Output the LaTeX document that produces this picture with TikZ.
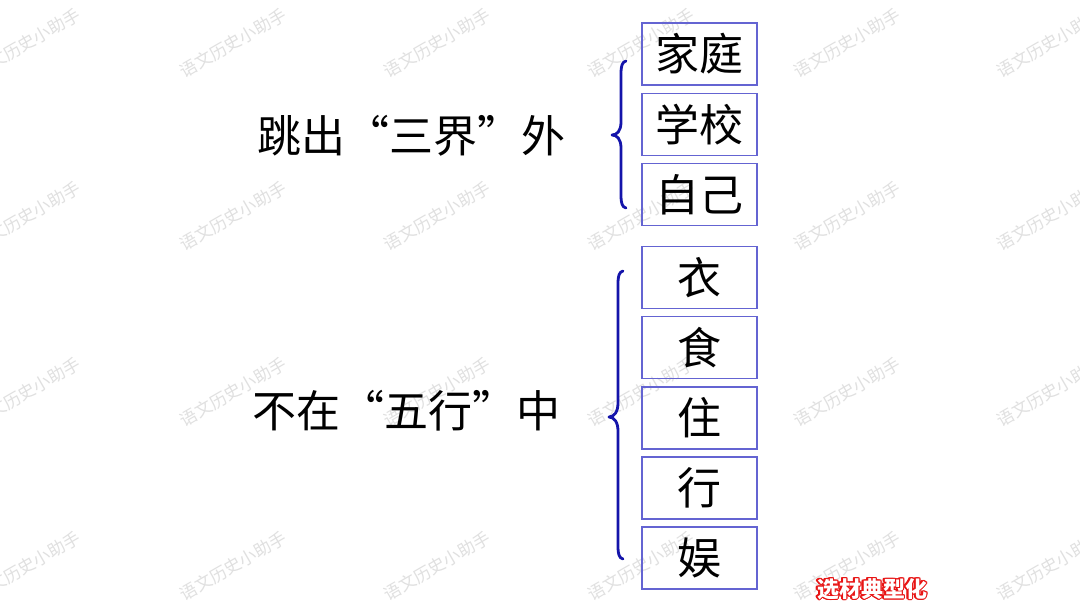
\documentclass[tikz,border=0pt]{standalone}
\usepackage{fontspec}
\usetikzlibrary{calc}
\newfontfamily\cjk{Noto Sans CJK SC}
\newfontfamily\song{Noto Sans CJK SC}
\definecolor{boxline}{RGB}{100,100,210}
\definecolor{bracecol}{RGB}{20,20,170}
\definecolor{wmgray}{RGB}{224,224,224}
\definecolor{tagred}{RGB}{232,20,20}
\tikzset{
  itembox/.style={draw=boxline, line width=1.2pt, minimum width=115pt, minimum height=62pt,
    inner sep=0pt, text=black, font=\song\fontsize{44}{44}\selectfont},
  lefttext/.style={inner sep=0pt, text=black, font=\song\fontsize{44}{44}\selectfont},
  bracestyle/.style={draw=bracecol, line width=2.8pt, line cap=round, line join=round},
  watermark/.style={inner sep=0pt, text=wmgray, rotate=30, font=\cjk\fontsize{17}{17}\selectfont},
  tagtext/.style={inner sep=0pt, font=\cjk\bfseries\fontsize{22}{22}\selectfont}
}
\begin{document}
\begin{tikzpicture}[x=1pt,y=-1pt]
\useasboundingbox (0,0) rectangle (1080,608);
\fill[white] (0,0) rectangle (1080,608);

% watermarks
\foreach \x in {27,233,437,641,847,1050}{
  \foreach \y in {43,216,392,566}{
    \node[watermark] (wm-\x-\y) at (\x,\y) {语文历史小助手};
  }
}

% left labels
\node[lefttext] (t1) at (411,136) {跳出\makebox[1em][r]{“}三界\makebox[1em][l]{”}外};
\node[lefttext] (t2) at (406,411) {不在\makebox[1em][r]{“}五行\makebox[1em][l]{”}中};

% top group boxes
\node[itembox] (a1) at (699.5,54)  {家庭};
\node[itembox] (a2) at (699.5,124.5) {学校};
\node[itembox] (a3) at (699.5,194.5) {自己};

% bottom group boxes
\node[itembox] (b1) at (699.5,277.5) {衣};
\node[itembox] (b2) at (699.5,347.5) {食};
\node[itembox] (b3) at (699.5,418)   {住};
\node[itembox] (b4) at (699.5,488)   {行};
\node[itembox] (b5) at (699.5,558)   {娱};

% braces
\draw[bracestyle] (626,61) .. controls (622,62) and (621,66) .. (621,74)
  -- (621,122) .. controls (621,131) and (617,135) .. (612,135)
  .. controls (617,135) and (621,139) .. (621,148)
  -- (621,195) .. controls (621,203) and (622,207) .. (626,208);
\draw[bracestyle] (623,271) .. controls (619,272) and (618,276) .. (618,284)
  -- (618,403) .. controls (618,412) and (614,417) .. (609,417)
  .. controls (614,417) and (618,422) .. (618,431)
  -- (618,546) .. controls (618,554) and (619,558) .. (623,559);

% tag: red outline around white letters
\foreach \a in {0,30,...,330}{
  \node[tagtext, text=tagred] (tag-\a) at ($(872,589)+(\a:1.2)$) {选材典型化};
}
\node[tagtext, text=white] (tag) at (872,589) {选材典型化};
\end{tikzpicture}
\end{document}
